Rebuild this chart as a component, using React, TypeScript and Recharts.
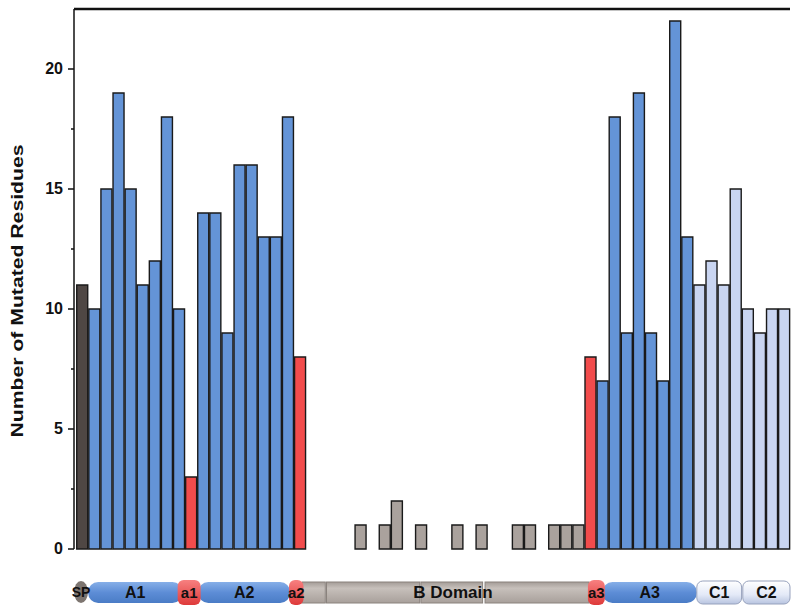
import React from 'react'
import { BarChart, Bar, Cell, XAxis, YAxis, ReferenceLine } from 'recharts'

// number of mutated residues per position bin
const counts = [
  11, 10, 15, 19, 15, 11, 12, 18, 10, 3,
  14, 14, 9, 16, 16, 13, 13, 18, 8, 0,
  0, 0, 0, 1, 0, 1, 2, 0, 1, 0,
  0, 1, 0, 1, 0, 0, 1, 1, 0, 1,
  1, 1, 8, 7, 18, 9, 19, 9, 7, 22,
  13, 11, 12, 11, 15, 10, 9, 10, 10,
]

// domain each bin belongs to
const groups = [
  'sp', 'A', 'A', 'A', 'A', 'A', 'A', 'A', 'A', 'a',
  'A', 'A', 'A', 'A', 'A', 'A', 'A', 'A', 'a', 'B',
  'B', 'B', 'B', 'B', 'B', 'B', 'B', 'B', 'B', 'B',
  'B', 'B', 'B', 'B', 'B', 'B', 'B', 'B', 'B', 'B',
  'B', 'B', 'a', 'A', 'A', 'A', 'A', 'A', 'A', 'A',
  'A', 'C', 'C', 'C', 'C', 'C', 'C', 'C', 'C',
]

const yTicks = [0, 2.5, 5, 7.5, 10, 12.5, 15, 17.5, 20]

// domain map below the axis, bounds in bin units
const domainNames = ['A1', 'A2', 'A3']
const domainStart = [1.0, 10.1, 43.5]
const domainEnd = [8.8, 17.7, 51.3]
const acidicNames = ['a1', 'a2', 'a3']
const acidicStart = [8.4, 17.6, 42.3]
const acidicEnd = [10.3, 18.8, 43.7]
const bPieceStart = [18.7, 20.7, 28.5, 33.8]
const bPieceEnd = [20.6, 28.4, 33.6, 42.4]
const cNames = ['C1', 'C2']
const cStart = [51.3, 55.1]
const cEnd = [55.0, 59.0]

const fills: Record<string, string> = {
  sp: '#4f4744',
  A: '#6494d7',
  a: '#f24c4c',
  B: '#aaa29d',
  C: '#c9d5f1',
}

const data = counts.map((v, i) => ({ idx: i, count: v, group: groups[i] }))

const FONT = 'Liberation Sans, Arial, sans-serif'
const PLOT_LEFT = 76
const PLOT_RIGHT = 790
const SLOT = (PLOT_RIGHT - PLOT_LEFT) / counts.length
const sx = (b: number) => PLOT_LEFT + b * SLOT

const YTick = (props: any) => {
  const { x, y, payload } = props
  const major = payload.value % 5 === 0
  return (
    <g>
      <line x1={x - (major ? 6 : 3)} x2={x} y1={y} y2={y} stroke="#111" strokeWidth={1.5} />
      {major && (
        <text x={x - 11} y={y} dy={5} textAnchor="end" fontSize={16} fontWeight="bold" fontFamily={FONT} fill="#111">
          {payload.value}
        </text>
      )}
    </g>
  )
}

const DomainMap = () => {
  const cy = 592
  return (
    <svg width={800} height={611} style={{ position: 'absolute', left: 0, top: 0, pointerEvents: 'none' }}>
      <defs>
        <linearGradient id="gBlue" x1="0" y1="0" x2="0" y2="1">
          <stop offset="0" stopColor="#86afe8" />
          <stop offset="0.5" stopColor="#5d8dd6" />
          <stop offset="1" stopColor="#4a7cc6" />
        </linearGradient>
        <linearGradient id="gRed" x1="0" y1="0" x2="0" y2="1">
          <stop offset="0" stopColor="#f78080" />
          <stop offset="1" stopColor="#de3a3a" />
        </linearGradient>
        <linearGradient id="gGray" x1="0" y1="0" x2="0" y2="1">
          <stop offset="0" stopColor="#a49c97" />
          <stop offset="0.3" stopColor="#c7c0bb" />
          <stop offset="1" stopColor="#a8a09b" />
        </linearGradient>
        <linearGradient id="gC" x1="0" y1="0" x2="0" y2="1">
          <stop offset="0" stopColor="#ffffff" />
          <stop offset="0.6" stopColor="#e3e9f7" />
          <stop offset="1" stopColor="#b8c4e0" />
        </linearGradient>
      </defs>
      {bPieceStart.map((s, i) => (
        <rect key={'b' + i} x={sx(s)} y={cy - 10} width={sx(bPieceEnd[i]) - sx(s)} height={21}
          fill="url(#gGray)" stroke="#8a827d" strokeWidth={1} />
      ))}
      <text x={453} y={cy} dy={6} textAnchor="middle" fontSize={17} fontWeight="bold" fontFamily={FONT} fill="#111">
        B Domain
      </text>
      {domainNames.map((n, i) => (
        <g key={n}>
          <rect x={sx(domainStart[i])} y={cy - 10} width={sx(domainEnd[i]) - sx(domainStart[i])} height={21}
            rx={10} fill="url(#gBlue)" />
          <text x={(sx(domainStart[i]) + sx(domainEnd[i])) / 2} y={cy} dy={6} textAnchor="middle"
            fontSize={16} fontWeight="bold" fontFamily={FONT} fill="#111">{n}</text>
        </g>
      ))}
      {acidicNames.map((n, i) => (
        <g key={n}>
          <rect x={sx(acidicStart[i])} y={cy - 12} width={sx(acidicEnd[i]) - sx(acidicStart[i])} height={25}
            rx={6} fill="url(#gRed)" />
          <text x={(sx(acidicStart[i]) + sx(acidicEnd[i])) / 2} y={cy} dy={6} textAnchor="middle"
            fontSize={15} fontWeight="bold" fontFamily={FONT} fill="#111">{n}</text>
        </g>
      ))}
      {cNames.map((n, i) => (
        <g key={n}>
          <rect x={sx(cStart[i])} y={cy - 11} width={sx(cEnd[i]) - sx(cStart[i])} height={23}
            rx={6} fill="url(#gC)" stroke="#97a2bd" strokeWidth={1} />
          <text x={(sx(cStart[i]) + sx(cEnd[i])) / 2} y={cy} dy={6} textAnchor="middle"
            fontSize={16} fontWeight="bold" fontFamily={FONT} fill="#111">{n}</text>
        </g>
      ))}
      <ellipse cx={81} cy={cy} rx={7} ry={11} fill="#7d7570" />
      <text x={81} y={cy} dy={5} textAnchor="middle" fontSize={14} fontWeight="bold" fontFamily={FONT} fill="#111">
        SP
      </text>
    </svg>
  )
}

export default function App() {
  return (
    <div style={{ position: 'absolute', left: 0, top: 0, width: 800, height: 611, background: '#fff' }}>
      <BarChart width={800} height={611} data={data} barCategoryGap="6%"
        margin={{ top: 9, right: 10, bottom: 62, left: 24 }}>
        <XAxis dataKey="idx" tick={false} tickLine={false} height={0} padding={{ left: 2, right: 0 }}
          axisLine={{ stroke: '#111', strokeWidth: 1.5 }} />
        <YAxis yAxisId="left" width={50} domain={[0, 22.5]} ticks={yTicks} interval={0}
          tickLine={false} tickSize={0} tickMargin={0} tick={<YTick />}
          axisLine={{ stroke: '#111', strokeWidth: 1.5 }}
          label={{
            content: () => (
              <text x={17} y={291} transform="rotate(-90 17 291)" textAnchor="middle" dominantBaseline="central"
                fontSize={17} fontWeight="bold" fontFamily={FONT} fill="#111"
                textLength={293} lengthAdjust="spacingAndGlyphs">
                Number of Mutated Residues
              </text>
            ),
          }} />
        <YAxis yAxisId="right" orientation="right" width={0} domain={[0, 22.5]} tick={false} tickLine={false}
          axisLine={{ stroke: '#b5b5b5', strokeWidth: 1 }} />
        <ReferenceLine yAxisId="left" y={22.5} stroke="#111" strokeWidth={2.5} />
        <Bar yAxisId="left" dataKey="count" isAnimationActive={false} stroke="#1a1a1a" strokeWidth={1.4}>
          {data.map((d) => (
            <Cell key={d.idx} fill={fills[d.group]} />
          ))}
        </Bar>
      </BarChart>
      <DomainMap />
    </div>
  )
}
